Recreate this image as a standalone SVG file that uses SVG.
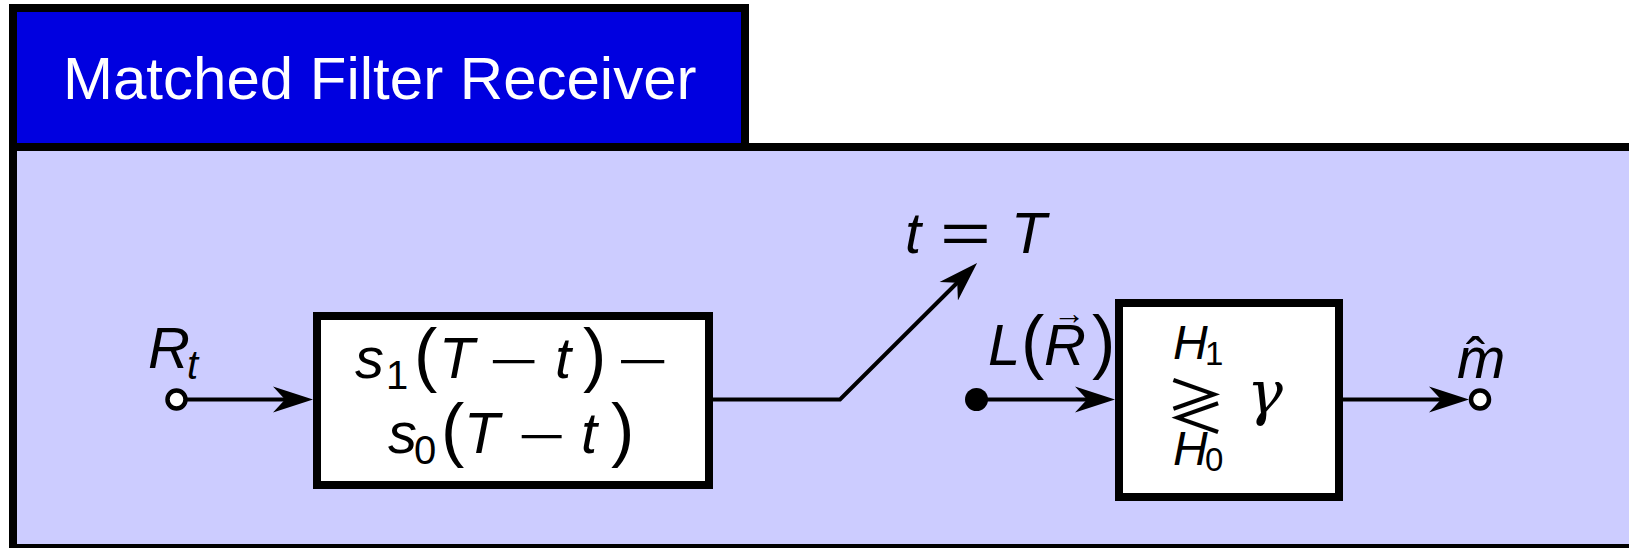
<svg xmlns="http://www.w3.org/2000/svg" width="1629" height="548" viewBox="0 0 1629 548">
<style>
.frame{stroke:#000;stroke-width:8}
.box{fill:#fff;stroke:#000;stroke-width:8}
.wire{fill:none;stroke:#000;stroke-width:4}
.t{font-family:"Liberation Sans",Arial,sans-serif;fill:#000}
.i{font-style:italic;font-size:58px}
.sub{font-style:normal;font-size:40px}
.ssub{font-style:normal;font-size:33px}
.par{font-style:normal;font-size:70px}
.op{font-style:normal;font-size:58px}
.mn{font-style:normal;font-size:46px}
.term{fill:#fff;stroke:#000;stroke-width:4.5}
</style>
<defs>
<marker id="arr" markerUnits="userSpaceOnUse" viewBox="0 0 42 28" markerWidth="42" markerHeight="28" refX="30" refY="14" orient="auto">
<path d="M40,14 L0,1 L12,14 L0,27 Z" fill="#000"/>
</marker>
</defs>
<rect width="1629" height="548" fill="#fff"/>
<g id="panel">
<rect class="frame" x="13" y="147" width="1640" height="401" fill="#ccccff"/>
</g>
<g id="title">
<rect class="frame" x="13" y="8" width="732" height="139" fill="#0000e0"/>
<text class="t" x="63" y="99" font-size="60" style="fill:#fff">Matched Filter Receiver</text>
</g>
<g id="connectors">
<line class="wire" x1="186" y1="399.5" x2="303" y2="399.5" marker-end="url(#arr)"/>
<polyline class="wire" points="713,399.5 840,399.5 970,270" marker-end="url(#arr)"/>
<line class="wire" x1="976" y1="399.5" x2="1105" y2="399.5" marker-end="url(#arr)"/>
<line class="wire" x1="1343" y1="399.5" x2="1459" y2="399.5" marker-end="url(#arr)"/>
</g>
<g id="input">
<circle class="term" cx="176.5" cy="399.5" r="9"/>
<text class="t" y="368"><tspan class="i" x="148">R</tspan><tspan class="sub" style="font-style:italic" x="187" y="379">t</tspan></text>
</g>
<g id="filter">
<rect class="box" x="317" y="316" width="392" height="169"/>
<text class="t" y="378"><tspan class="i" x="355">s</tspan><tspan class="sub" x="386" y="389">1</tspan><tspan class="par" x="414" y="378">(</tspan><tspan class="i" x="439">T</tspan><tspan class="mn" x="489" y="377" textLength="50" lengthAdjust="spacingAndGlyphs">−</tspan><tspan class="i" x="555" y="378">t</tspan><tspan class="par" x="583">)</tspan><tspan class="mn" x="617" y="377" textLength="52" lengthAdjust="spacingAndGlyphs">−</tspan></text>
<text class="t" y="453"><tspan class="i" x="388">s</tspan><tspan class="sub" x="414" y="464">0</tspan><tspan class="par" x="441" y="453">(</tspan><tspan class="i" x="464">T</tspan><tspan class="mn" x="518" y="452" textLength="48" lengthAdjust="spacingAndGlyphs">−</tspan><tspan class="i" x="581" y="453">t</tspan><tspan class="par" x="611">)</tspan></text>
</g>
<g id="sampler">
<text class="t" y="253"><tspan class="i" x="905">t</tspan><tspan class="op" x="940" textLength="51" lengthAdjust="spacingAndGlyphs">=</tspan><tspan class="i" x="1011">T</tspan></text>
</g>
<g id="statistic">
<circle cx="976.5" cy="399.5" r="11.5" fill="#000"/>
<text class="t" y="365"><tspan class="i" x="988">L</tspan><tspan class="par" x="1021">(</tspan><tspan class="i" x="1044">R</tspan><tspan class="par" x="1092">)</tspan></text>
<text class="t" x="1053" y="324" font-size="32">→</text>
</g>
<g id="decision">
<rect class="box" x="1119" y="303" width="220" height="194"/>
<text class="t" y="359"><tspan class="i" style="font-size:48px" x="1173">H</tspan><tspan class="ssub" x="1205" y="365">1</tspan></text>
<text class="t" x="1196" y="429" text-anchor="middle" style="font-family:'Noto Sans CJK JP','DejaVu Sans',sans-serif;font-size:60px">≷</text>
<text class="t" y="465"><tspan class="i" style="font-size:48px" x="1173">H</tspan><tspan class="ssub" x="1205" y="471">0</tspan></text>
<text class="t" x="1247" y="414" style="font-family:'DejaVu Serif',serif;font-style:italic;font-size:60px">γ</text>
</g>
<g id="output">
<circle class="term" cx="1480" cy="399.5" r="9"/>
<text class="t" y="378"><tspan class="i" x="1457">m</tspan><tspan style="font-size:58px" x="1466">ˆ</tspan></text>
</g>
</svg>
